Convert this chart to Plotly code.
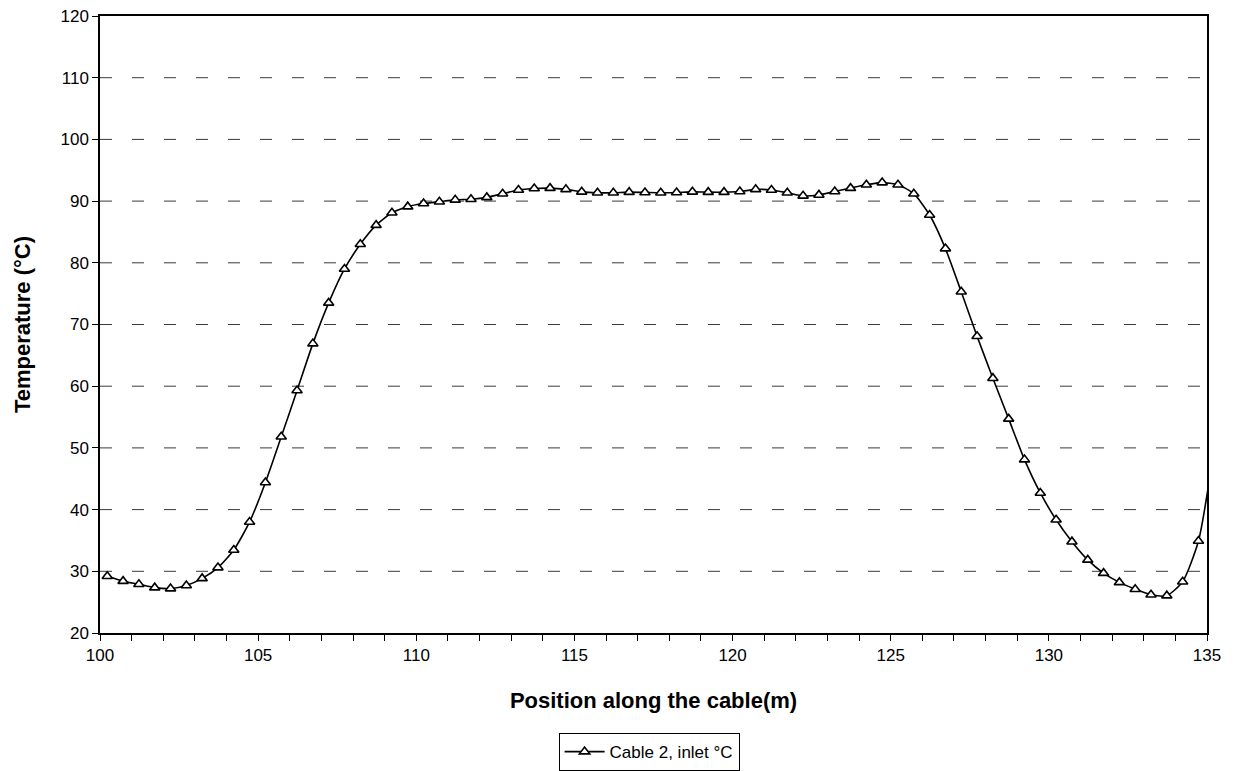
import plotly.graph_objects as go

position_m = [100.23, 100.73, 101.23, 101.73, 102.23, 102.73, 103.23, 103.73, 104.23, 104.73,
              105.23, 105.73, 106.23, 106.73, 107.23, 107.73, 108.23, 108.73, 109.23, 109.73,
              110.23, 110.73, 111.23, 111.73, 112.23, 112.73, 113.23, 113.73, 114.23, 114.73,
              115.23, 115.73, 116.23, 116.73, 117.23, 117.73, 118.23, 118.73, 119.23, 119.73,
              120.23, 120.73, 121.23, 121.73, 122.23, 122.73, 123.23, 123.73, 124.23, 124.73,
              125.23, 125.73, 126.23, 126.73, 127.23, 127.73, 128.23, 128.73, 129.23, 129.73,
              130.23, 130.73, 131.23, 131.73, 132.23, 132.73, 133.23, 133.73, 134.23, 134.73,
              135.23]
temperature_c = [29.2, 28.4, 27.9, 27.35, 27.2, 27.7, 28.85, 30.6, 33.45, 38.0,
                 44.4, 51.8, 59.3, 66.9, 73.5, 79.0, 83.0, 86.1, 88.1, 89.1,
                 89.6, 89.9, 90.2, 90.3, 90.6, 91.2, 91.8, 92.05, 92.1, 91.9,
                 91.5, 91.35, 91.35, 91.45, 91.4, 91.35, 91.4, 91.5, 91.45, 91.45,
                 91.55, 91.9, 91.8, 91.35, 90.85, 91.0, 91.55, 92.1, 92.65, 93.0,
                 92.65, 91.2, 87.75, 82.3, 75.3, 68.1, 61.3, 54.7, 48.1, 42.7,
                 38.35, 34.8, 31.85, 29.7, 28.2, 27.1, 26.2, 26.05, 28.3, 34.9,
                 50.0]
series_name = "Cable 2, inlet °C"
x_tick_values = list(range(100, 136))
x_tick_labels = [str(v) if v % 5 == 0 else "" for v in x_tick_values]
y_tick_values = list(range(20, 121, 10))

FONT = "Liberation Sans, Arial, sans-serif"

fig = go.Figure()
fig.add_trace(go.Scatter(
    x=position_m, y=temperature_c, name=series_name,
    mode="lines+markers",
    line=dict(color="black", width=1.6, shape="spline", smoothing=0.6),
    marker=dict(symbol="triangle-up", size=9, color="white",
                line=dict(color="black", width=1.6)),
))

# dashed horizontal gridlines drawn left-to-right so the dash pattern starts at the axis
for v in y_tick_values[1:-1]:
    fig.add_shape(type="line", xref="paper", yref="y", x0=0, x1=1, y0=v, y1=v,
                  line=dict(color="#3a3a3a", width=1, dash="12px,20px"), layer="below")

fig.update_layout(
    width=1244, height=771,
    margin=dict(l=100, r=37, t=16, b=138, autoexpand=False),
    paper_bgcolor="white", plot_bgcolor="white",
    font=dict(family=FONT, size=17, color="black"),
    showlegend=True,
    legend=dict(x=0.496, xanchor="center", yref="container", y=0.0246, yanchor="middle",
                bordercolor="black", borderwidth=1, bgcolor="white",
                font=dict(size=17, family=FONT), itemwidth=40,
                tracegroupgap=0),
)
fig.update_xaxes(
    range=[100, 135], tickmode="array", tickvals=x_tick_values, ticktext=x_tick_labels,
    ticks="outside", ticklen=6, tickcolor="black", tickwidth=1,
    showline=True, linecolor="black", linewidth=1.5, mirror=True,
    showgrid=False, zeroline=False, automargin=False, ticklabeloverflow="allow",
    tickfont=dict(size=17, family=FONT),
    title=dict(text="<b>Position along the cable(m)</b>", font=dict(size=22, family=FONT), standoff=28),
)
fig.update_yaxes(
    range=[20, 120], tickmode="array", tickvals=y_tick_values,
    ticks="outside", ticklen=6, tickcolor="black", tickwidth=1,
    showline=True, linecolor="black", linewidth=1.5, mirror=True,
    showgrid=False, zeroline=False, automargin=False, ticklabeloverflow="allow",
    tickfont=dict(size=17, family=FONT),
    title=dict(text="<b>Temperature (°C)</b>", font=dict(size=22, family=FONT), standoff=24),
)

fig.write_html("out.html", config={"displayModeBar": False},
               post_script="document.body.style.margin='0';")
